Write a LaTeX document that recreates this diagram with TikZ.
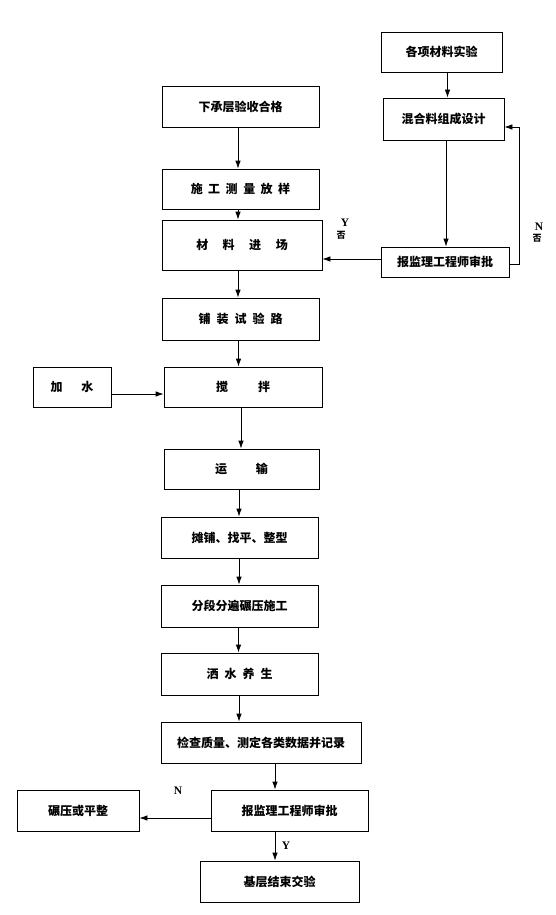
\documentclass[tikz,border=0pt]{standalone}
\usepackage{fontspec}
\newfontfamily\cjk{Noto Sans CJK SC}
\newfontfamily\lat{Liberation Serif}
\usetikzlibrary{arrows.meta}
\newcommand\hg[1]{\hspace{#1pt}}
\begin{document}
\begin{tikzpicture}[x=1pt,y=-1pt,
  box/.style={draw,line width=0.8pt,inner sep=0pt,font=\cjk\bfseries\fontsize{12}{14}\selectfont},
  arr/.style={line width=0.8pt,-{Latex[length=8pt,width=5.5pt]}},
  lab/.style={inner sep=0pt,font=\lat\bfseries\fontsize{11.5}{12}\selectfont},
  fou/.style={inner sep=0pt,font=\cjk\bfseries\fontsize{9}{10}\selectfont}]
\useasboundingbox (0,0) rectangle (555,915);
\node[box,minimum width=121pt,minimum height=40pt] (exp) at (441.5,52) {各项材料实验};
\node[box,minimum width=121pt,minimum height=42pt] (mix) at (443.5,119) {混合料组成设计};
\node[box,minimum width=128pt,minimum height=30pt] (app1) at (445,262) {报监理工程师审批};
\node[box,minimum width=157pt,minimum height=41pt] (base) at (240.5,106.5) {下承层验收合格};
\node[box,minimum width=157pt,minimum height=40pt] (survey) at (240.5,189) {施\hg{5.5}工\hg{5.5}测\hg{5.5}量\hg{5.5}放\hg{5.5}样};
\node[box,minimum width=160pt,minimum height=50pt] (mat) at (242,245) {材\hg{14.5}料\hg{14.5}进\hg{14.5}场};
\node[box,minimum width=157pt,minimum height=42pt] (trial) at (240.5,319) {铺\hg{6}装\hg{6}试\hg{6}验\hg{6}路};
\node[box,minimum width=158pt,minimum height=40pt] (mixing) at (243,387) {搅\hg{30}拌};
\node[box,minimum width=78pt,minimum height=40pt] (water) at (72,387) {加\hg{19}水};
\node[box,minimum width=155pt,minimum height=40pt] (trans) at (241.5,469) {运\hg{29}输};
\node[box,minimum width=157pt,minimum height=41pt] (spread) at (239.5,537.5) {摊铺、找平、整型};
\node[box,minimum width=157pt,minimum height=42pt] (roll) at (239.5,606) {分段分遍碾压施工};
\node[box,minimum width=157pt,minimum height=42pt] (cure) at (239.5,674) {洒\hg{6}水\hg{6}养\hg{6}生};
\node[box,minimum width=200pt,minimum height=41pt] (check) at (261,742.5) {检查质量、测定各类数据并记录};
\node[box,minimum width=157pt,minimum height=41pt] (app2) at (289.5,810.5) {报监理工程师审批};
\node[box,minimum width=122pt,minimum height=41pt] (reroll) at (78,810.5) {碾压或平整};
\node[box,minimum width=159pt,minimum height=41pt] (end) at (279.5,881.5) {基层结束交验};
% arrows right column
\draw[arr] (exp.south -| 447.5,0) -- (mix.north -| 447.5,0);
\draw[arr] (mix.south -| 446,0) -- (app1.north -| 446,0);
\draw[arr] (app1.west |- 0,259) -- (mat.east |- 0,259);
\draw[arr] (app1.east |- 0,264) -- (519,264) -- (519,127) -- (mix.east |- 0,127);
% left column
\draw[arr] (base.south -| 238,0) -- (survey.north -| 238,0);
\draw[arr] (survey.south -| 238,0) -- (mat.north -| 238,0);
\draw[arr] (mat.south -| 238,0) -- (trial.north -| 238,0);
\draw[arr] (trial.south -| 238.5,0) -- (mixing.north -| 238.5,0);
\draw[arr] (water.east |- 0,394) -- (mixing.west |- 0,394);
\draw[arr] (mixing.south -| 241,0) -- (trans.north -| 241,0);
\draw[arr] (trans.south -| 239,0) -- (spread.north -| 239,0);
\draw[arr] (spread.south -| 239,0) -- (roll.north -| 239,0);
\draw[arr] (roll.south -| 238.5,0) -- (cure.north -| 238.5,0);
\draw[arr] (cure.south -| 239,0) -- (check.north -| 239,0);
\draw[arr] (check.south -| 275,0) -- (app2.north -| 275,0);
\draw[arr] (app2.west |- 0,818) -- (reroll.east |- 0,818);
\draw[arr] (app2.south -| 275,0) -- (end.north -| 275,0);
% labels
\node[lab] (y1) at (345,223) {Y};
\node[fou] (f1) at (341,235) {否};
\node[lab] (n1) at (539,227) {N};
\node[fou] (f2) at (537,238) {否};
\node[lab] (n2) at (178,791) {N};
\node[lab] (y2) at (286,846) {Y};
\end{tikzpicture}
\end{document}
